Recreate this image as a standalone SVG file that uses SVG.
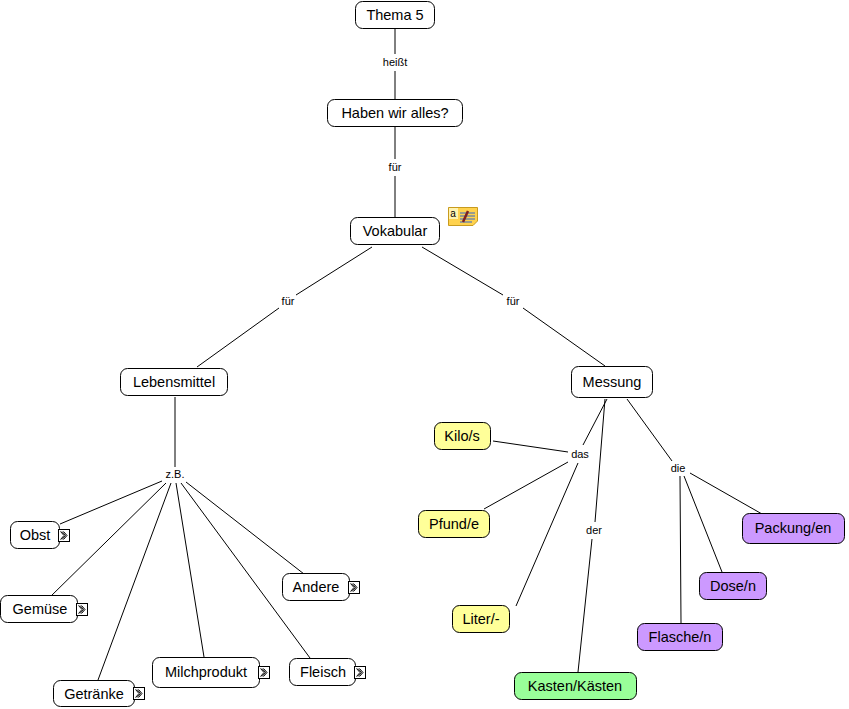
<svg xmlns="http://www.w3.org/2000/svg" width="849" height="709" viewBox="0 0 849 709">
<style>
text{font-family:"Liberation Sans",Arial,sans-serif;fill:#000;text-anchor:middle}
.n rect{fill:#fff;stroke:#000;stroke-width:1}
.n text{font-size:14.5px}
.y rect{fill:#ffff99}
.g rect{fill:#99ff99}
.p rect{fill:#cc99ff}
.l{font-size:11px}
#connectors line{stroke:#000;stroke-width:1;fill:none}
.i rect{fill:#fff;stroke:#000}
.i path{fill:none;stroke:#000;stroke-width:1.2}
</style>
<defs>
<g id="more"><rect x="0.5" y="0.5" width="11" height="12" fill="#fff" stroke="#000"/><path d="M2.5 2.5L6 6.5L2.500 10.500M5.500 2.500L9 6.500L5.500 10.500M4 2.500L7.500 6.500L4 10.500" fill="none" stroke="#000" stroke-width="1"/></g>
</defs>
<g id="connectors">
<line x1="395" y1="29" x2="395" y2="54"/>
<line x1="395" y1="71" x2="395" y2="99"/>
<line x1="395" y1="127" x2="395" y2="159"/>
<line x1="395" y1="176" x2="395" y2="217"/>
<line x1="372" y1="247" x2="296" y2="295"/>
<line x1="279" y1="308" x2="197" y2="367"/>
<line x1="422" y1="247" x2="503" y2="295"/>
<line x1="523" y1="308" x2="605" y2="366"/>
<line x1="175" y1="397" x2="175" y2="467"/>
<line x1="162" y1="481" x2="60" y2="524"/>
<line x1="166" y1="483" x2="49" y2="598"/>
<line x1="171" y1="483" x2="98" y2="680"/>
<line x1="176" y1="483" x2="204" y2="657"/>
<line x1="181" y1="483" x2="310" y2="658"/>
<line x1="186" y1="482" x2="304" y2="574"/>
<line x1="493" y1="441" x2="568" y2="452"/>
<line x1="484" y1="509" x2="568" y2="462"/>
<line x1="578" y1="463" x2="516" y2="606"/>
<line x1="607" y1="399" x2="583" y2="445"/>
<line x1="605" y1="399" x2="595" y2="522"/>
<line x1="592" y1="539" x2="578" y2="672"/>
<line x1="627" y1="399" x2="672" y2="461"/>
<line x1="680" y1="476" x2="681" y2="623"/>
<line x1="684" y1="476" x2="722" y2="572"/>
<line x1="690" y1="473" x2="762" y2="514"/>
</g>
<g class="l">
<text class="l" x="395" y="66">heißt</text>
<text class="l" x="395" y="171">für</text>
<text class="l" x="288" y="305">für</text>
<text class="l" x="513" y="305">für</text>
<text class="l" x="175" y="478">z.B.</text>
<text class="l" x="580" y="458">das</text>
<text class="l" x="594" y="534">der</text>
<text class="l" x="678" y="472">die</text>
</g>
<g id="n-thema" class="n"><rect x="355.500" y="1.500" width="79" height="27" rx="7"/><text x="395" y="20">Thema 5</text></g>
<g id="n-haben" class="n"><rect x="327.500" y="99.500" width="135" height="27" rx="7"/><text x="395" y="118">Haben wir alles?</text></g>
<g id="n-vokabular" class="n"><rect x="350.500" y="217.500" width="89" height="27" rx="7"/><text x="395" y="236">Vokabular</text></g>
<g id="n-note"><path d="M448.500 207.500H477.500V221L473 225.500H448.500Z" fill="#ffd24d" stroke="#c89b1e"/><rect x="449" y="208" width="9" height="11" fill="#fff3b0"/><text x="453" y="217" style="font-size:10px">a</text><path d="M460 213h15M460 216h15M460 219h15M460 222h12" stroke="#3366cc" stroke-width="1"/><path d="M463 222L468 211" stroke="#802020" stroke-width="2.500"/></g>
<g id="n-lebensmittel" class="n"><rect x="120.500" y="368.500" width="107" height="27" rx="7"/><text x="174" y="387">Lebensmittel</text></g>
<g id="n-messung" class="n"><rect x="571.500" y="366.500" width="81" height="31" rx="7"/><text x="612" y="387">Messung</text></g>
<g id="n-obst" class="n"><rect x="10.500" y="521.500" width="49" height="27" rx="7"/><text x="35" y="540">Obst</text><use href="#more" x="58" y="529"/></g>
<g id="n-gemuese" class="n"><rect x="0.500" y="595.500" width="77" height="27" rx="7"/><text x="40" y="614">Gemüse</text><use href="#more" x="76" y="603"/></g>
<g id="n-getraenke" class="n"><rect x="53.500" y="680.500" width="81" height="26" rx="7"/><text x="94" y="699">Getränke</text><use href="#more" x="133" y="687"/></g>
<g id="n-milch" class="n"><rect x="152.500" y="657.500" width="107" height="30" rx="7"/><text x="206" y="677">Milchprodukt</text><use href="#more" x="258" y="666"/></g>
<g id="n-fleisch" class="n"><rect x="289.500" y="658.500" width="66" height="27" rx="7"/><text x="323" y="677">Fleisch</text><use href="#more" x="354" y="666"/></g>
<g id="n-andere" class="n"><rect x="282.500" y="573.500" width="67" height="27" rx="7"/><text x="316" y="592">Andere</text><use href="#more" x="348" y="581"/></g>
<g id="n-kilo" class="n y"><rect x="434.500" y="422.500" width="56" height="27" rx="7"/><text x="462" y="441">Kilo/s</text></g>
<g id="n-pfund" class="n y"><rect x="418.500" y="510.500" width="71" height="27" rx="7"/><text x="454" y="529">Pfund/e</text></g>
<g id="n-liter" class="n y"><rect x="452.500" y="605.500" width="57" height="27" rx="7"/><text x="481" y="624">Liter/-</text></g>
<g id="n-kasten" class="n g"><rect x="514.500" y="672.500" width="122" height="27" rx="7"/><text x="575" y="691">Kasten/Kästen</text></g>
<g id="n-flasche" class="n p"><rect x="637.500" y="623.500" width="85" height="27" rx="7"/><text x="680" y="642">Flasche/n</text></g>
<g id="n-dose" class="n p"><rect x="699.500" y="572.500" width="67" height="27" rx="7"/><text x="733" y="591">Dose/n</text></g>
<g id="n-packung" class="n p"><rect x="742.500" y="513.500" width="102" height="30" rx="7"/><text x="793" y="533">Packung/en</text></g>
</svg>
